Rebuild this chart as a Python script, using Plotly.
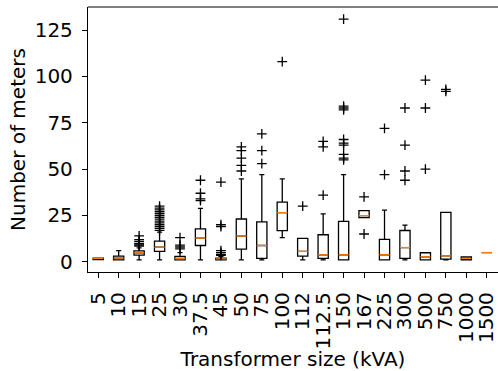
import plotly.graph_objects as go

categories = ["5", "10", "15", "25", "30", "37.5", "45", "50", "75", "100",
              "112", "112.5", "150", "167", "225", "300", "500", "750", "1000", "1500"]
q1 = [1.2, 1, 3.6, 5.6, 1, 8.8, 1, 6.8, 1.8, 16.8, 3.1, 1.8, 1, 23.8, 1, 1.8, 1, 1.4, 1.1, 5]
median = [1.8, 2, 4.9, 7.9, 1.8, 12.8, 1.6, 13.9, 8.8, 26.5, 5.6, 3.8, 3.8, 24.9, 3.8, 7.7, 2.7, 3.2, 1.8, 5]
q3 = [2, 3.1, 5.9, 11.2, 2.9, 17.8, 2, 23.1, 21.6, 32.2, 12.6, 14.6, 21.8, 27.6, 12.1, 16.9, 4.9, 26.7, 2.7, 5]
lower_whisker = [1.2, 1, 1, 1, 1, 1, 1, 1, 1, 13, 1, 1, 1, 23.8, 1, 1, 1, 1, 1.1, 5]
upper_whisker = [2, 6, 7.5, 16, 5, 28.8, 3, 44.8, 47, 44.8, 12.6, 25.9, 47, 27.6, 27.9, 19.8, 4.9, 26.7, 2.7, 5]
outliers = [
    [],
    [],
    [8.5, 9, 9.5, 10, 11, 12, 14],
    [17, 18, 19, 20, 21, 22, 23, 24, 25, 26, 27, 28, 29, 30],
    [7, 8, 9, 13],
    [33, 34, 37, 44],
    [3.5, 4, 5, 6, 19, 20, 43],
    [49, 52, 56, 60, 62],
    [53, 60, 69],
    [108],
    [30],
    [36, 62, 65],
    [55, 56, 58, 63, 64, 66, 82, 83, 84, 131],
    [15, 35],
    [47, 72],
    [44, 49, 63, 83],
    [50, 83, 98],
    [92, 93],
    [],
    [],
]

positions = list(range(1, len(categories) + 1))
box_width = 0.5

fig = go.Figure()
fig.add_trace(go.Box(
    x=positions, q1=q1, median=median, q3=q3,
    lowerfence=lower_whisker, upperfence=upper_whisker,
    width=box_width, whiskerwidth=0.5, boxpoints=False,
    line=dict(color="black", width=1.3), fillcolor="rgba(0,0,0,0)",
    showlegend=False, hoverinfo="skip",
))

mx, my = [], []
for p, m in zip(positions, median):
    mx += [p - box_width / 2, p + box_width / 2, None]
    my += [m, m, None]
fig.add_trace(go.Scatter(x=mx, y=my, mode="lines",
                         line=dict(color="#ff7f0e", width=1.3),
                         showlegend=False, hoverinfo="skip"))

ox, oy = [], []
for p, vals in zip(positions, outliers):
    ox += [p] * len(vals)
    oy += vals
fig.add_trace(go.Scatter(x=ox, y=oy, mode="markers",
                         marker=dict(symbol="cross-thin", size=7,
                                     line=dict(color="black", width=1.3)),
                         showlegend=False, hoverinfo="skip"))

font = dict(family="DejaVu Sans", size=20, color="black")
fig.update_layout(
    width=498, height=371,
    margin=dict(l=88, r=0, t=7, b=99),
    paper_bgcolor="white", plot_bgcolor="white",
    font=font,
    xaxis=dict(range=[0.5, 20.55], tickvals=positions, ticktext=categories,
               tickangle=-90, ticks="outside", ticklen=5, tickwidth=1.2,
               tickcolor="black", showline=True, linecolor="black", linewidth=1.3,
               showgrid=False, zeroline=False, tickfont=font, automargin=False,
               ticklabeloverflow="allow", ticklabelstandoff=6,
               title=dict(text="Transformer size (kVA)", font=font, standoff=22)),
    yaxis=dict(range=[-5.5, 137.5], tickvals=[0, 25, 50, 75, 100, 125],
               ticks="outside", ticklen=5, tickwidth=1.2, tickcolor="black",
               showline=True, linecolor="black", linewidth=1.3,
               showgrid=False, zeroline=False, tickfont=font, automargin=False,
               ticklabelstandoff=5,
               title=dict(text="Number of meters", font=font, standoff=3)),
    shapes=[dict(type="line", xref="paper", yref="paper", x0=0, x1=1, y0=1, y1=1,
                 line=dict(color="#808080", width=2))],
)

fig.write_html("out.html")
